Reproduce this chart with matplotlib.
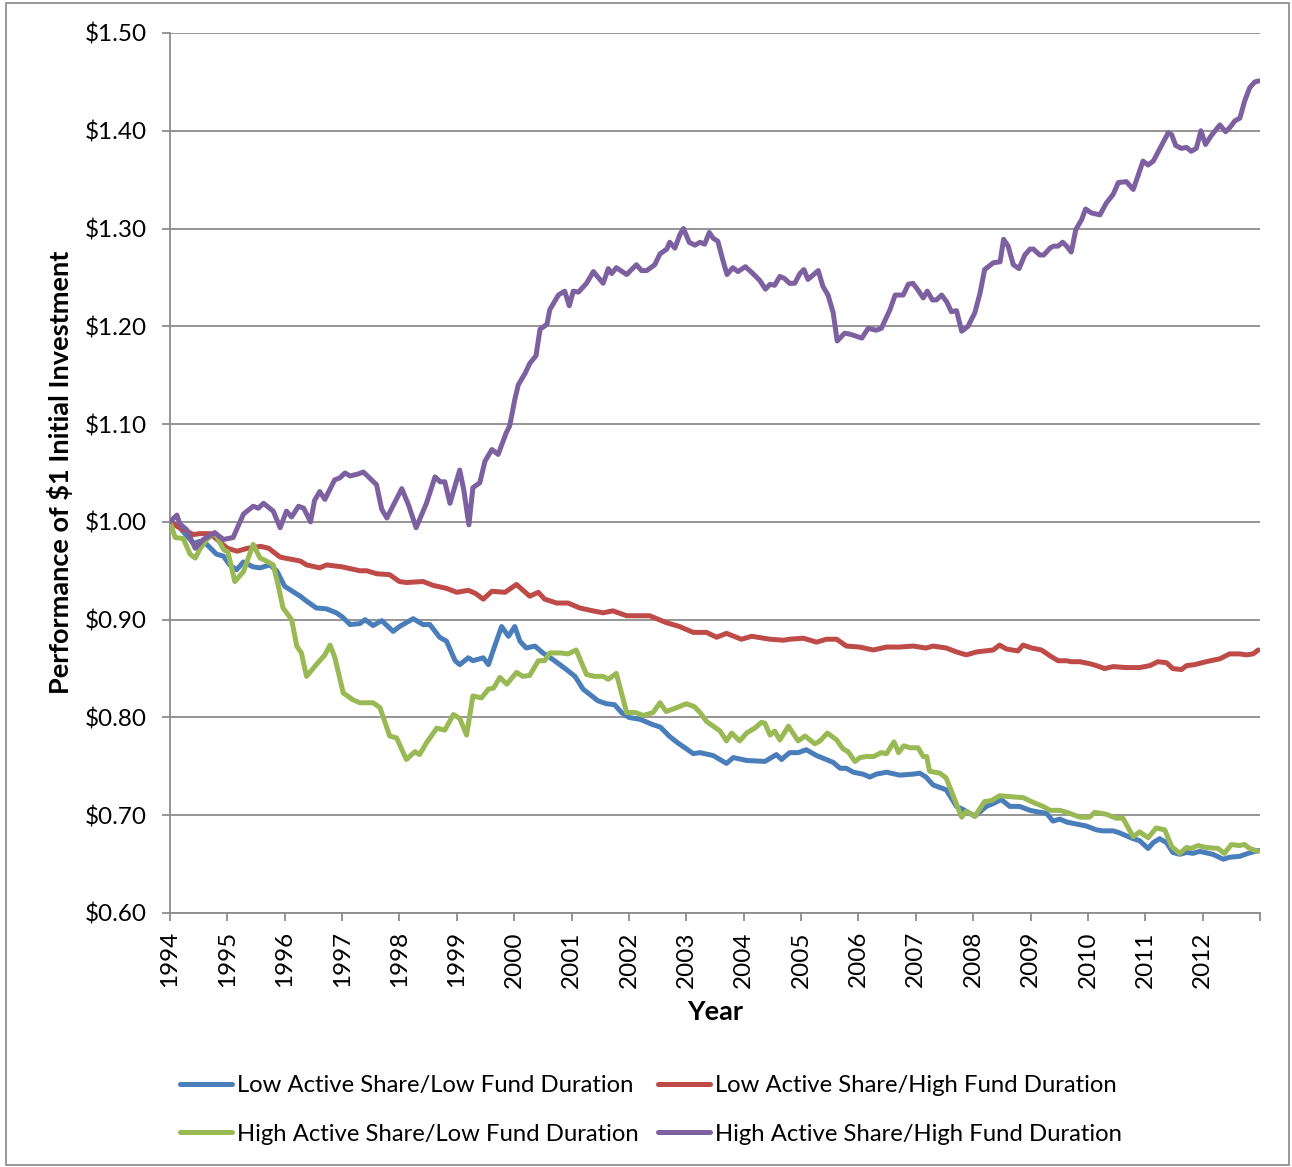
import matplotlib
matplotlib.use("Agg")
import matplotlib.pyplot as plt
from matplotlib.patches import Rectangle
from matplotlib.ticker import FuncFormatter, FixedLocator

plt.rcParams['font.family'] = ['Lato', 'DejaVu Sans']

# ---------------- data ----------------
series_labels = [
    "Low Active Share/Low Fund Duration",
    "Low Active Share/High Fund Duration",
    "High Active Share/Low Fund Duration",
    "High Active Share/High Fund Duration",
]
series_colors = ["#4A7EBB", "#BE4B48", "#98B954", "#7D60A0"]

low_low_years = [1994.00, 1994.17, 1994.41, 1994.52, 1994.64, 1994.81, 1994.93, 1995.04, 1995.16, 1995.28,
                 1995.45, 1995.57, 1995.74, 1995.86, 1996.00, 1996.27, 1996.38, 1996.55, 1996.73, 1996.90,
                 1997.00, 1997.14, 1997.31, 1997.40, 1997.54, 1997.69, 1997.89, 1998.00, 1998.24, 1998.41,
                 1998.53, 1998.70, 1998.82, 1998.97, 1999.05, 1999.20, 1999.28, 1999.46, 1999.55, 1999.66,
                 1999.78, 1999.90, 2000.01, 2000.10, 2000.21, 2000.36, 2000.50, 2000.68, 2000.91, 2001.06,
                 2001.20, 2001.35, 2001.46, 2001.61, 2001.75, 2001.87, 2002.00, 2002.20, 2002.40, 2002.55,
                 2002.70, 2002.85, 2003.00, 2003.12, 2003.24, 2003.47, 2003.70, 2003.82, 2004.05, 2004.37,
                 2004.57, 2004.66, 2004.80, 2004.95, 2005.09, 2005.27, 2005.44, 2005.56, 2005.68, 2005.79,
                 2005.91, 2006.08, 2006.20, 2006.31, 2006.49, 2006.72, 2006.95, 2007.07, 2007.18, 2007.30,
                 2007.53, 2007.71, 2007.82, 2008.03, 2008.23, 2008.35, 2008.49, 2008.64, 2008.81, 2008.99,
                 2009.16, 2009.28, 2009.39, 2009.51, 2009.63, 2009.80, 2009.97, 2010.15, 2010.26, 2010.44,
                 2010.55, 2010.67, 2010.79, 2010.90, 2011.05, 2011.14, 2011.25, 2011.37, 2011.48, 2011.60,
                 2011.72, 2011.83, 2011.95, 2012.18, 2012.36, 2012.47, 2012.65, 2012.79, 2012.97]
low_low_values = [1.000, 0.994, 0.978, 0.980, 0.977, 0.967, 0.965, 0.956, 0.951, 0.959,
                  0.954, 0.953, 0.956, 0.950, 0.934, 0.924, 0.919, 0.912, 0.911, 0.907,
                  0.903, 0.895, 0.896, 0.900, 0.894, 0.899, 0.888, 0.893, 0.901, 0.895,
                  0.895, 0.882, 0.878, 0.858, 0.854, 0.861, 0.858, 0.861, 0.854, 0.873,
                  0.893, 0.883, 0.893, 0.878, 0.871, 0.873, 0.866, 0.859, 0.849, 0.842,
                  0.829, 0.822, 0.817, 0.814, 0.813, 0.805, 0.800, 0.798, 0.793, 0.790,
                  0.781, 0.774, 0.768, 0.763, 0.764, 0.761, 0.753, 0.759, 0.756, 0.755,
                  0.762, 0.757, 0.764, 0.764, 0.767, 0.761, 0.757, 0.754, 0.748, 0.748,
                  0.744, 0.742, 0.739, 0.742, 0.744, 0.741, 0.742, 0.743, 0.739, 0.731,
                  0.726, 0.709, 0.706, 0.699, 0.709, 0.712, 0.716, 0.709, 0.709, 0.705,
                  0.703, 0.702, 0.694, 0.696, 0.693, 0.691, 0.689, 0.685, 0.684, 0.684,
                  0.682, 0.679, 0.676, 0.674, 0.666, 0.672, 0.676, 0.672, 0.662, 0.660,
                  0.662, 0.661, 0.663, 0.660, 0.655, 0.657, 0.658, 0.661, 0.664]

low_high_years = [1994.00, 1994.17, 1994.41, 1994.52, 1994.70, 1995.00, 1995.17, 1995.35, 1995.58, 1995.72,
                  1995.92, 1996.00, 1996.27, 1996.38, 1996.61, 1996.73, 1997.00, 1997.31, 1997.43, 1997.60,
                  1997.83, 1998.00, 1998.12, 1998.41, 1998.59, 1998.82, 1999.00, 1999.20, 1999.32, 1999.46,
                  1999.61, 1999.84, 2000.04, 2000.27, 2000.42, 2000.53, 2000.74, 2000.94, 2001.14, 2001.37,
                  2001.55, 2001.72, 2001.96, 2002.36, 2002.65, 2002.88, 2003.12, 2003.35, 2003.53, 2003.70,
                  2003.96, 2004.14, 2004.46, 2004.69, 2004.80, 2005.04, 2005.27, 2005.44, 2005.62, 2005.79,
                  2006.02, 2006.26, 2006.49, 2006.72, 2006.95, 2007.18, 2007.30, 2007.53, 2007.71, 2007.88,
                  2008.06, 2008.35, 2008.46, 2008.58, 2008.78, 2008.87, 2009.02, 2009.19, 2009.34, 2009.48,
                  2009.63, 2009.71, 2009.86, 2010.03, 2010.15, 2010.29, 2010.44, 2010.67, 2010.90, 2011.08,
                  2011.22, 2011.37, 2011.48, 2011.63, 2011.72, 2011.86, 2012.06, 2012.30, 2012.47, 2012.65,
                  2012.76, 2012.88, 2012.97]
low_high_values = [1.000, 0.994, 0.987, 0.988, 0.988, 0.973, 0.970, 0.973, 0.975, 0.973,
                   0.964, 0.963, 0.960, 0.956, 0.953, 0.956, 0.954, 0.950, 0.950, 0.947,
                   0.946, 0.939, 0.938, 0.939, 0.935, 0.932, 0.928, 0.930, 0.927, 0.921,
                   0.929, 0.928, 0.936, 0.924, 0.928, 0.921, 0.917, 0.917, 0.912, 0.909,
                   0.907, 0.909, 0.904, 0.904, 0.897, 0.893, 0.887, 0.887, 0.882, 0.886,
                   0.880, 0.883, 0.880, 0.879, 0.880, 0.881, 0.877, 0.880, 0.880, 0.873,
                   0.872, 0.869, 0.872, 0.872, 0.873, 0.871, 0.873, 0.871, 0.867, 0.864,
                   0.867, 0.869, 0.874, 0.870, 0.868, 0.874, 0.871, 0.869, 0.863, 0.858,
                   0.858, 0.857, 0.857, 0.855, 0.853, 0.850, 0.852, 0.851, 0.851, 0.853,
                   0.857, 0.856, 0.850, 0.849, 0.853, 0.854, 0.857, 0.860, 0.865, 0.865,
                   0.864, 0.865, 0.869]

high_low_years = [1994.00, 1994.09, 1994.23, 1994.35, 1994.44, 1994.52, 1994.64, 1994.78, 1994.93, 1995.01,
                  1995.13, 1995.28, 1995.45, 1995.57, 1995.68, 1995.80, 1995.89, 1995.97, 1996.12, 1996.21,
                  1996.29, 1996.38, 1996.55, 1996.70, 1996.79, 1996.87, 1997.02, 1997.19, 1997.31, 1997.54,
                  1997.66, 1997.83, 1997.95, 1998.12, 1998.27, 1998.35, 1998.47, 1998.65, 1998.79, 1998.94,
                  1999.05, 1999.17, 1999.28, 1999.43, 1999.55, 1999.64, 1999.75, 1999.87, 2000.04, 2000.15,
                  2000.27, 2000.42, 2000.53, 2000.62, 2000.80, 2000.94, 2001.08, 2001.26, 2001.40, 2001.55,
                  2001.64, 2001.78, 2001.96, 2002.11, 2002.25, 2002.42, 2002.54, 2002.65, 2002.83, 2003.00,
                  2003.14, 2003.24, 2003.35, 2003.59, 2003.70, 2003.79, 2003.93, 2004.05, 2004.19, 2004.31,
                  2004.37, 2004.46, 2004.54, 2004.63, 2004.78, 2004.95, 2005.07, 2005.24, 2005.33, 2005.46,
                  2005.62, 2005.73, 2005.82, 2005.94, 2006.03, 2006.14, 2006.26, 2006.40, 2006.49, 2006.62,
                  2006.70, 2006.79, 2006.90, 2007.04, 2007.13, 2007.19, 2007.24, 2007.42, 2007.53, 2007.80,
                  2007.88, 2008.03, 2008.20, 2008.32, 2008.46, 2008.64, 2008.87, 2009.05, 2009.22, 2009.34,
                  2009.51, 2009.68, 2009.86, 2010.03, 2010.12, 2010.32, 2010.49, 2010.61, 2010.79, 2010.90,
                  2011.05, 2011.19, 2011.34, 2011.46, 2011.60, 2011.72, 2011.80, 2011.92, 2012.06, 2012.27,
                  2012.38, 2012.50, 2012.64, 2012.73, 2012.82, 2012.97]
high_low_values = [1.000, 0.984, 0.983, 0.967, 0.963, 0.972, 0.982, 0.989, 0.972, 0.969,
                   0.939, 0.949, 0.977, 0.963, 0.960, 0.956, 0.934, 0.912, 0.900, 0.873,
                   0.866, 0.842, 0.854, 0.864, 0.874, 0.862, 0.825, 0.818, 0.815, 0.815,
                   0.810, 0.781, 0.779, 0.757, 0.765, 0.762, 0.774, 0.789, 0.787, 0.803,
                   0.799, 0.782, 0.822, 0.820, 0.829, 0.830, 0.841, 0.834, 0.846, 0.842,
                   0.843, 0.858, 0.858, 0.866, 0.866, 0.865, 0.869, 0.844, 0.842, 0.842,
                   0.839, 0.845, 0.805, 0.805, 0.802, 0.805, 0.815, 0.806, 0.810, 0.814,
                   0.811, 0.805, 0.796, 0.786, 0.776, 0.784, 0.776, 0.784, 0.789, 0.795,
                   0.794, 0.782, 0.786, 0.777, 0.791, 0.776, 0.781, 0.773, 0.776, 0.784,
                   0.777, 0.768, 0.765, 0.755, 0.759, 0.760, 0.760, 0.764, 0.763, 0.775,
                   0.764, 0.771, 0.769, 0.769, 0.760, 0.760, 0.745, 0.743, 0.738, 0.698,
                   0.704, 0.699, 0.714, 0.715, 0.720, 0.719, 0.718, 0.713, 0.709, 0.705,
                   0.705, 0.702, 0.698, 0.698, 0.703, 0.701, 0.697, 0.697, 0.678, 0.683,
                   0.677, 0.687, 0.685, 0.668, 0.661, 0.667, 0.666, 0.669, 0.667, 0.666,
                   0.661, 0.670, 0.669, 0.670, 0.666, 0.663]

high_high_years = [1994.00, 1994.12, 1994.17, 1994.29, 1994.44, 1994.58, 1994.78, 1994.93, 1995.10, 1995.28,
                   1995.45, 1995.54, 1995.63, 1995.80, 1995.92, 1996.03, 1996.12, 1996.24, 1996.33, 1996.45,
                   1996.52, 1996.61, 1996.70, 1996.87, 1996.96, 1997.05, 1997.14, 1997.28, 1997.37, 1997.46,
                   1997.60, 1997.69, 1997.78, 1998.04, 1998.16, 1998.29, 1998.47, 1998.62, 1998.71, 1998.79,
                   1998.88, 1999.05, 1999.12, 1999.21, 1999.28, 1999.40, 1999.49, 1999.61, 1999.72, 1999.86,
                   1999.92, 2000.01, 2000.07, 2000.19, 2000.27, 2000.38, 2000.45, 2000.57, 2000.62, 2000.77,
                   2000.88, 2000.96, 2001.03, 2001.12, 2001.26, 2001.38, 2001.55, 2001.64, 2001.70, 2001.78,
                   2001.96, 2002.13, 2002.22, 2002.31, 2002.45, 2002.54, 2002.66, 2002.71, 2002.80, 2002.89,
                   2002.95, 2003.05, 2003.15, 2003.24, 2003.32, 2003.40, 2003.47, 2003.55, 2003.64, 2003.71,
                   2003.81, 2003.90, 2004.03, 2004.16, 2004.28, 2004.38, 2004.46, 2004.54, 2004.63, 2004.71,
                   2004.80, 2004.89, 2004.98, 2005.05, 2005.12, 2005.30, 2005.38, 2005.47, 2005.56, 2005.63,
                   2005.76, 2005.85, 2006.06, 2006.17, 2006.31, 2006.40, 2006.55, 2006.64, 2006.78, 2006.87,
                   2006.95, 2007.04, 2007.13, 2007.20, 2007.29, 2007.36, 2007.45, 2007.54, 2007.62, 2007.71,
                   2007.80, 2007.91, 2008.03, 2008.12, 2008.20, 2008.35, 2008.47, 2008.53, 2008.61, 2008.70,
                   2008.80, 2008.90, 2008.99, 2009.05, 2009.16, 2009.23, 2009.34, 2009.40, 2009.48, 2009.56,
                   2009.63, 2009.71, 2009.79, 2009.89, 2009.96, 2010.06, 2010.21, 2010.32, 2010.44, 2010.53,
                   2010.67, 2010.79, 2010.88, 2010.96, 2011.05, 2011.14, 2011.23, 2011.31, 2011.40, 2011.46,
                   2011.53, 2011.63, 2011.72, 2011.80, 2011.89, 2011.97, 2012.05, 2012.15, 2012.30, 2012.40,
                   2012.47, 2012.56, 2012.65, 2012.73, 2012.82, 2012.91, 2012.98]
high_high_values = [1.000, 1.007, 0.998, 0.992, 0.973, 0.982, 0.989, 0.982, 0.984, 1.008,
                    1.016, 1.014, 1.019, 1.011, 0.994, 1.011, 1.005, 1.016, 1.014, 1.000,
                    1.022, 1.031, 1.023, 1.043, 1.045, 1.050, 1.047, 1.049, 1.051, 1.046,
                    1.038, 1.013, 1.004, 1.034, 1.017, 0.994, 1.019, 1.046, 1.041, 1.041,
                    1.019, 1.053, 1.033, 0.997, 1.035, 1.040, 1.062, 1.074, 1.069, 1.091,
                    1.098, 1.125, 1.140, 1.152, 1.162, 1.170, 1.197, 1.202, 1.217, 1.232,
                    1.236, 1.221, 1.236, 1.235, 1.244, 1.256, 1.244, 1.259, 1.254, 1.260,
                    1.253, 1.263, 1.257, 1.257, 1.263, 1.274, 1.279, 1.286, 1.280, 1.294,
                    1.300, 1.286, 1.283, 1.286, 1.284, 1.296, 1.290, 1.287, 1.267, 1.253,
                    1.260, 1.256, 1.261, 1.254, 1.247, 1.238, 1.243, 1.242, 1.251, 1.249,
                    1.244, 1.244, 1.254, 1.258, 1.248, 1.257, 1.241, 1.232, 1.214, 1.185,
                    1.193, 1.192, 1.188, 1.198, 1.196, 1.198, 1.217, 1.232, 1.232, 1.243,
                    1.244, 1.237, 1.229, 1.236, 1.227, 1.227, 1.232, 1.225, 1.215, 1.216,
                    1.195, 1.200, 1.214, 1.234, 1.258, 1.265, 1.266, 1.289, 1.282, 1.263,
                    1.259, 1.273, 1.279, 1.279, 1.273, 1.273, 1.280, 1.282, 1.282, 1.286,
                    1.282, 1.276, 1.299, 1.309, 1.320, 1.316, 1.314, 1.326, 1.335, 1.347,
                    1.348, 1.340, 1.355, 1.369, 1.365, 1.369, 1.379, 1.388, 1.398, 1.396,
                    1.385, 1.382, 1.383, 1.379, 1.382, 1.400, 1.386, 1.395, 1.406, 1.399,
                    1.403, 1.410, 1.413, 1.430, 1.444, 1.450, 1.451]

year_ticks = list(range(1994, 2014))
year_tick_labels = [str(y) for y in range(1994, 2013)] + [""]
y_ticks = [0.60, 0.70, 0.80, 0.90, 1.00, 1.10, 1.20, 1.30, 1.40, 1.50]

# ---------------- figure ----------------
W, H = 1292, 1167
fig = plt.figure(figsize=(W / 100, H / 100), dpi=100)
fig.patch.set_facecolor("white")

# outer chart border
fig.patches.append(Rectangle((6 / W, 1 - 1165 / H), (1289 - 6) / W, (1165 - 3) / H,
                             transform=fig.transFigure, fill=False,
                             edgecolor="#868686", linewidth=1.2))

ax = fig.add_axes([170 / W, 1 - 913 / H, (1260 - 170) / W, (913 - 33) / H])

grid_col = "#8C8C8C"
all_years = [low_low_years, low_high_years, high_low_years, high_high_years]
all_values = [low_low_values, low_high_values, high_low_values, high_high_values]
lines = []
for yrs, vals, lab, col in zip(all_years, all_values, series_labels, series_colors):
    ln, = ax.plot(yrs, vals, color=col, linewidth=3.6, label=lab,
                  solid_joinstyle="round", solid_capstyle="round", zorder=3)
    lines.append(ln)

ax.set_xlim(1994, 2013)
ax.set_ylim(0.60, 1.50)
ax.xaxis.set_major_locator(FixedLocator(year_ticks))
ax.set_xticklabels(year_tick_labels, rotation=90)
ax.yaxis.set_major_locator(FixedLocator(y_ticks))
ax.yaxis.set_major_formatter(FuncFormatter(lambda v, p: "${:.2f}".format(v)))

ax.grid(axis="y", color=grid_col, linewidth=1.3, zorder=1)
ax.set_axisbelow(True)
for s in ["top", "right"]:
    ax.spines[s].set_visible(False)
for s in ["left", "bottom"]:
    ax.spines[s].set_color(grid_col)
    ax.spines[s].set_linewidth(1.3)

ax.tick_params(axis="both", direction="out", color=grid_col, width=1.3, length=6,
               labelsize=17.5, labelcolor="black")
ax.tick_params(axis="y", pad=11)
ax.tick_params(axis="x", pad=7)

fig.text(60 / W, 1 - 472 / H, "Performance of $1 Initial Investment", rotation=90,
         ha="center", va="center", fontsize=19.5, fontweight="bold")
fig.text(715 / W, 1 - 1012 / H, "Year", ha="center", va="center",
         fontsize=19.5, fontweight="bold")

order = [0, 2, 1, 3]
leg = fig.legend([lines[i] for i in order], [series_labels[i] for i in order],
                 loc="center", bbox_to_anchor=(651 / W, 1 - 1110 / H), ncol=2,
                 frameon=False, fontsize=17.2, handlelength=2.2, handletextpad=0.2,
                 columnspacing=0.8, labelspacing=1.15)

fig.savefig("out.png", dpi=100)
